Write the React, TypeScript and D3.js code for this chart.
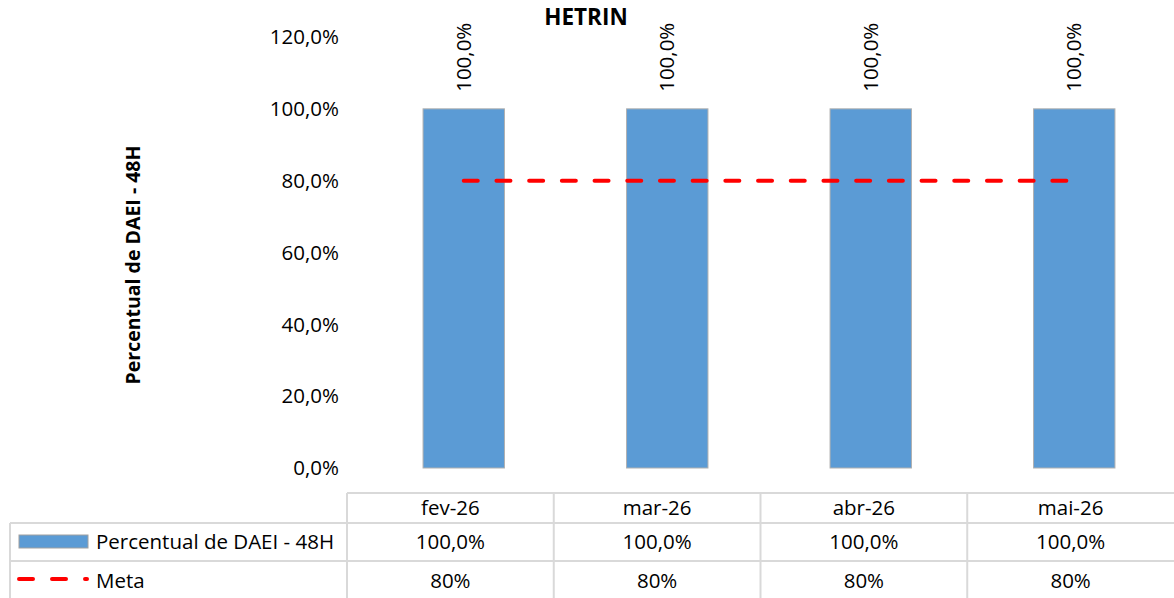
import React, { useEffect, useRef } from "react";
import * as d3 from "d3";

const title = "HETRIN";
const yAxisLabel = "Percentual de DAEI - 48H";
const months = ["fev-26", "mar-26", "abr-26", "mai-26"];
const percentual = [1.0, 1.0, 1.0, 1.0];
const meta = [0.8, 0.8, 0.8, 0.8];
const yTicks = [0, 0.2, 0.4, 0.6, 0.8, 1.0, 1.2];
const seriesNames = ["Percentual de DAEI - 48H", "Meta"];

const W = 1174;
const H = 598;
const FONT = "'Open Sans', sans-serif";
const FS = 20.5;

const fmt1 = (v: number) => d3.format(".1%")(v).replace(".", ",");
const fmt0 = (v: number) => d3.format(".0%")(v);

export default function App() {
  const svgRef = useRef(null);

  useEffect(() => {
    if (!svgRef.current) return;
    const svg = d3.select(svgRef.current);
    svg.selectAll("*").remove();

    const x = d3.scaleBand<string>().domain(months).range([362, 1176]).paddingInner(0.6).paddingOuter(0.3);
    const xTable = d3.scaleBand<string>().domain(months).range([347, 1174]);
    const y = d3.scaleLinear().domain([0, 1.2]).range([468, 37]);

    // title
    svg
      .append("text")
      .attr("x", 586)
      .attr("y", 25)
      .attr("text-anchor", "middle")
      .attr("font-family", FONT)
      .attr("font-weight", "bold")
      .attr("font-size", 22.5)
      .text(title);

    // y axis labels
    svg
      .append("g")
      .selectAll("text")
      .data(yTicks)
      .join("text")
      .attr("x", 339)
      .attr("y", (d) => y(d))
      .attr("dy", "0.35em")
      .attr("text-anchor", "end")
      .attr("font-family", FONT)
      .attr("font-size", FS)
      .text((d) => fmt1(d));

    svg
      .append("text")
      .attr("transform", "translate(140,265) rotate(-90)")
      .attr("text-anchor", "middle")
      .attr("font-family", FONT)
      .attr("font-weight", "bold")
      .attr("font-size", 19.5)
      .text(yAxisLabel);

    // bars
    svg
      .append("g")
      .selectAll("rect")
      .data(months)
      .join("rect")
      .attr("x", (d) => x(d)!)
      .attr("y", (d, i) => y(percentual[i]))
      .attr("width", x.bandwidth())
      .attr("height", (d, i) => y(0) - y(percentual[i]))
      .attr("fill", "#5b9bd5")
      .attr("stroke", "#b0b0b0")
      .attr("stroke-width", 1);

    // bar labels
    svg
      .append("g")
      .selectAll("text")
      .data(months)
      .join("text")
      .attr("transform", (d, i) => `translate(${x(d)! + x.bandwidth() / 2 + 7},${y(percentual[i]) - 17}) rotate(-90)`)
      .attr("font-family", FONT)
      .attr("font-size", FS)
      .text((d, i) => fmt1(percentual[i]));

    // meta line
    const line = d3
      .line<number>()
      .x((d, i) => x(months[i])! + x.bandwidth() / 2)
      .y((d) => y(d));
    svg
      .append("path")
      .attr("d", line(meta))
      .attr("fill", "none")
      .attr("stroke", "#ff0000")
      .attr("stroke-width", 4)
      .attr("stroke-dasharray", "14,18.7")
      .attr("stroke-linecap", "round");

    // data table
    const grid = "#d9d9d9";
    const rows = [493, 523, 561, 600];
    const tbl = svg.append("g").attr("stroke", grid).attr("stroke-width", 2);
    tbl.append("line").attr("x1", 347).attr("x2", W).attr("y1", rows[0]).attr("y2", rows[0]);
    tbl.append("line").attr("x1", 10).attr("x2", W).attr("y1", rows[1]).attr("y2", rows[1]);
    tbl.append("line").attr("x1", 10).attr("x2", W).attr("y1", rows[2]).attr("y2", rows[2]);
    tbl.append("line").attr("x1", 10).attr("x2", 10).attr("y1", rows[1]).attr("y2", H);
    tbl
      .selectAll("line.col")
      .data(months)
      .join("line")
      .attr("class", "col")
      .attr("x1", (d) => xTable(d)!)
      .attr("x2", (d) => xTable(d)!)
      .attr("y1", rows[0])
      .attr("y2", H);

    const cellText = (row: number, vals: string[]) =>
      svg
        .append("g")
        .selectAll("text")
        .data(months)
        .join("text")
        .attr("x", (d) => xTable(d)! + xTable.bandwidth() / 2)
        .attr("y", (rows[row] + rows[row + 1]) / 2)
        .attr("dy", "0.35em")
        .attr("text-anchor", "middle")
        .attr("font-family", FONT)
        .attr("font-size", FS)
        .text((d, i) => vals[i]);

    cellText(0, months);
    cellText(1, percentual.map(fmt1));
    cellText(2, meta.map(fmt0));

    // legend keys
    svg
      .append("rect")
      .attr("x", 19)
      .attr("y", 535)
      .attr("width", 69)
      .attr("height", 13)
      .attr("fill", "#5b9bd5")
      .attr("stroke", "#a0a0a0")
      .attr("stroke-width", 1);
    svg
      .append("line")
      .attr("x1", 19)
      .attr("x2", 87)
      .attr("y1", 579)
      .attr("y2", 579)
      .attr("stroke", "#ff0000")
      .attr("stroke-width", 4)
      .attr("stroke-dasharray", "14,19")
      .attr("stroke-linecap", "round");

    svg
      .selectAll("text.leg")
      .data(seriesNames)
      .join("text")
      .attr("class", "leg")
      .attr("x", 96)
      .attr("y", (d, i) => (rows[i + 1] + rows[i + 2]) / 2)
      .attr("dy", "0.35em")
      .attr("font-family", FONT)
      .attr("font-size", FS)
      .text((d) => d);
  }, []);

  return (
    <>
      <style>{`body{margin:0}`}</style>
      <svg ref={svgRef} width={W} height={H} style={{ display: "block", background: "#fff" }} />
    </>
  );
}
